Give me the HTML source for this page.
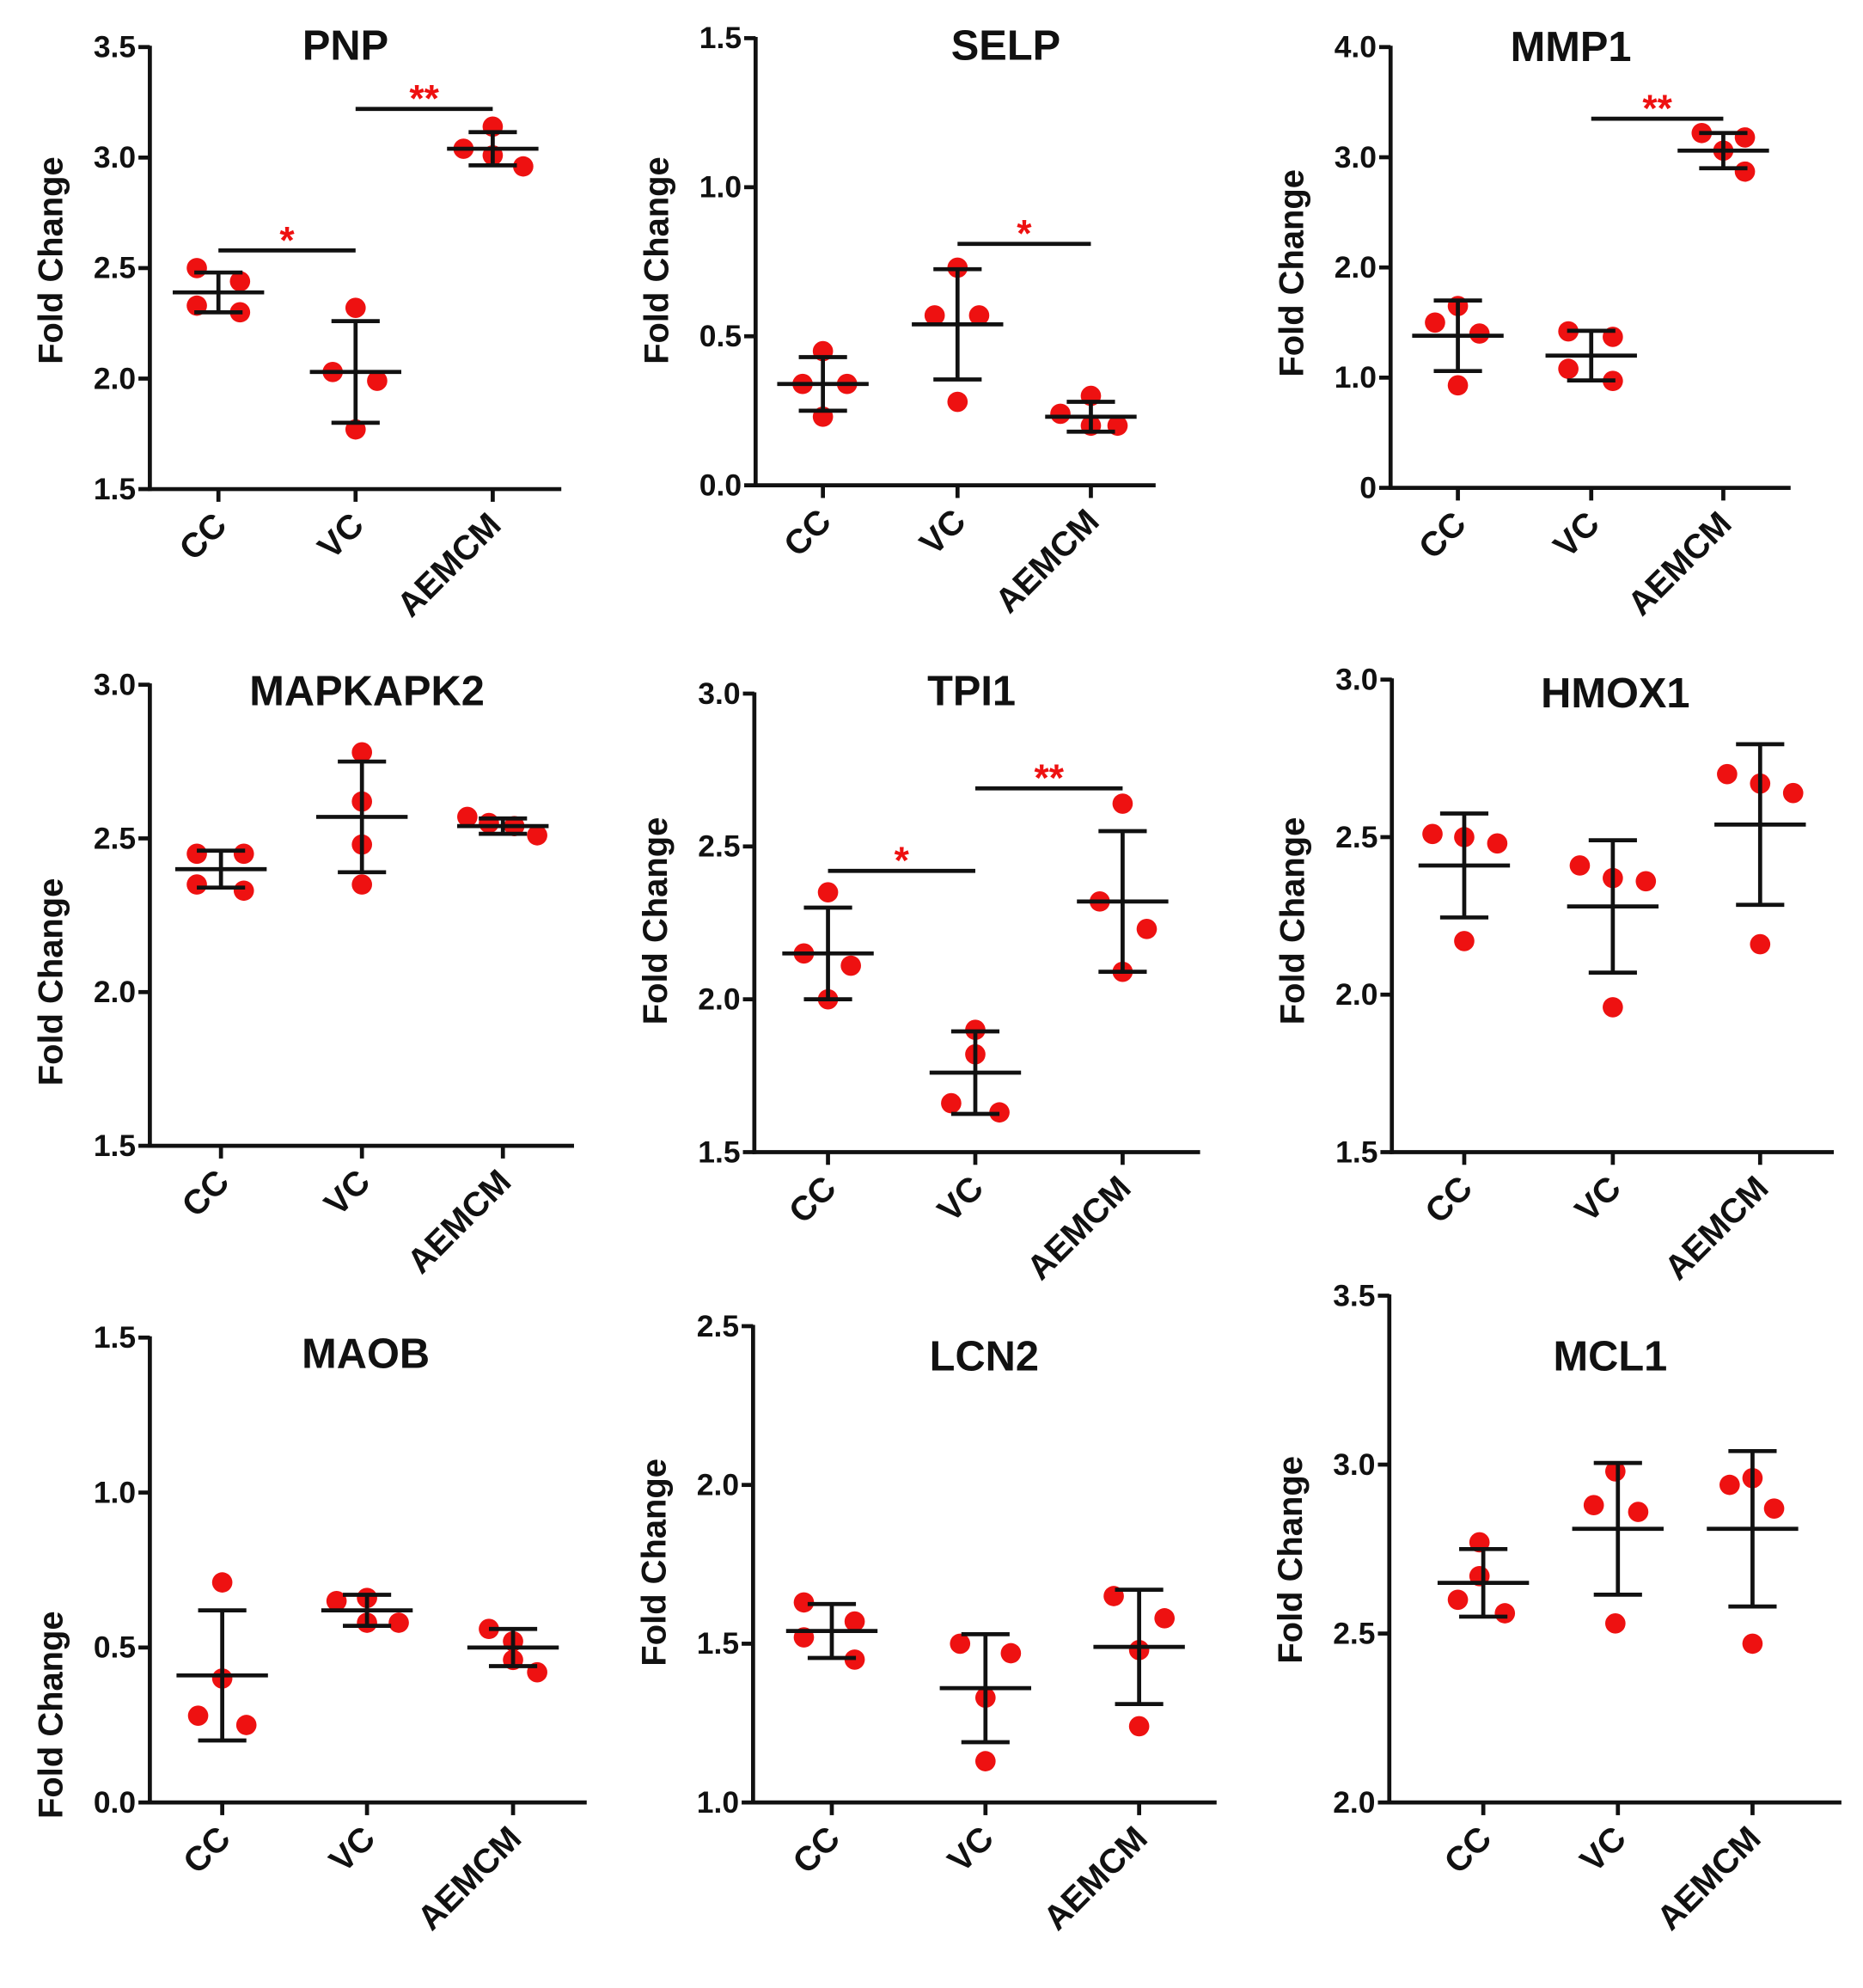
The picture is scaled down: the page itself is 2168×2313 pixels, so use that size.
<!DOCTYPE html>
<html><head><meta charset="utf-8"><style>
html,body{margin:0;padding:0;background:#fff}
svg{display:block}
text{font-family:"Liberation Sans",Arial,sans-serif;font-weight:bold;fill:#111}
</style></head><body>
<svg id="fig" width="2168" height="2313" viewBox="0 0 1467 1565" xmlns="http://www.w3.org/2000/svg"></svg>
<script>
const groups = ["CC","VC","AEMCM"];
const titles = ["PNP","SELP","MMP1","MAPKAPK2","TPI1","HMOX1","MAOB","LCN2","MCL1"];
const yTicks = [[1.5,2.0,2.5,3.0,3.5],[0.0,0.5,1.0,1.5],[0,1.0,2.0,3.0,4.0],[1.5,2.0,2.5,3.0],[1.5,2.0,2.5,3.0],[1.5,2.0,2.5,3.0],[0.0,0.5,1.0,1.5],[1.0,1.5,2.0,2.5],[2.0,2.5,3.0,3.5]];
const tickLabels = [["1.5","2.0","2.5","3.0","3.5"],["0.0","0.5","1.0","1.5"],["0","1.0","2.0","3.0","4.0"],["1.5","2.0","2.5","3.0"],["1.5","2.0","2.5","3.0"],["1.5","2.0","2.5","3.0"],["0.0","0.5","1.0","1.5"],["1.0","1.5","2.0","2.5"],["2.0","2.5","3.0","3.5"]];
const points = [
 [[2.50,2.44,2.33,2.30],[2.32,2.03,1.99,1.77],[3.14,3.04,3.01,2.96]],
 [[0.45,0.34,0.34,0.23],[0.73,0.57,0.57,0.28],[0.30,0.24,0.20,0.20]],
 [[1.65,1.50,1.40,0.93],[1.42,1.37,1.08,0.97],[3.22,3.18,3.06,2.87]],
 [[2.45,2.45,2.35,2.33],[2.78,2.62,2.48,2.35],[2.57,2.55,2.54,2.51]],
 [[2.35,2.15,2.11,2.00],[1.90,1.82,1.66,1.63],[2.64,2.32,2.23,2.09]],
 [[2.51,2.50,2.48,2.17],[2.41,2.37,2.36,1.96],[2.70,2.67,2.64,2.16]],
 [[0.71,0.40,0.28,0.25],[0.65,0.66,0.58,0.58],[0.56,0.52,0.46,0.42]],
 [[1.63,1.57,1.52,1.45],[1.50,1.47,1.33,1.13],[1.65,1.58,1.48,1.24]],
 [[2.77,2.67,2.60,2.56],[2.98,2.88,2.86,2.53],[2.96,2.94,2.87,2.47]]
];
const means = [[2.39,2.03,3.04],[0.34,0.54,0.23],[1.38,1.20,3.06],[2.40,2.57,2.54],[2.15,1.76,2.32],[2.41,2.28,2.54],[0.41,0.62,0.50],[1.54,1.36,1.49],[2.65,2.81,2.81]];
const sds = [[0.09,0.23,0.075],[0.09,0.185,0.05],[0.32,0.225,0.16],[0.06,0.18,0.025],[0.15,0.135,0.23],[0.165,0.21,0.255],[0.21,0.05,0.06],[0.085,0.17,0.18],[0.10,0.195,0.23]];
const sigBars = [[[0,1,2.58,"*"],[1,2,3.22,"**"]],[[1,2,0.81,"*"]],[[1,2,3.35,"**"]],[],[[0,1,2.42,"*"],[1,2,2.69,"**"]],[],[],[],[]];
// layout (positions, not data)
const L = [
 {ax:118,top:37,bot:385,end:442,gx:[172,280,388],tx:272,ty:47,ylc:205,off:[[-17,17,-17,17],[0,-18,17,0],[0,-23,0,24]]},
 {ax:595,top:30,bot:382,end:910,gx:[648,754,859],tx:792,ty:47,ylc:205,off:[[0,-16,19,0],[0,-18,17,0],[0,-24,21,0]]},
 {ax:1095,top:37,bot:384,end:1410,gx:[1148,1253,1357],tx:1237,ty:48,ylc:215,off:[[0,-18,17,0],[-18,17,-18,17],[-17,17,0,17]]},
 {ax:118,top:539,bot:902,end:452,gx:[174,285,396],tx:289,ty:555,ylc:773,off:[[-19,18,-19,18],[0,0,0,0],[-28,-11,9,27]]},
 {ax:594,top:546,bot:907,end:945,gx:[652,768,884],tx:765,ty:555,ylc:725,off:[[0,-19,18,0],[0,0,-19,19],[0,-18,19,0]]},
 {ax:1096,top:535,bot:907,end:1444,gx:[1153,1270,1386],tx:1272,ty:557,ylc:725,off:[[-25,0,26,0],[-26,0,26,0],[-26,0,26,0]]},
 {ax:118,top:1053,bot:1419,end:462,gx:[175,289,404],tx:288,ty:1077,ylc:1350,off:[[0,0,-19,19],[-24,0,0,25],[-19,0,0,19]]},
 {ax:593,top:1044,bot:1419,end:958,gx:[655,776,897],tx:775,ty:1079,ylc:1230,off:[[-22,18,-22,18],[-20,20,0,0],[-20,20,0,0]]},
 {ax:1094,top:1020,bot:1419,end:1450,gx:[1168,1274,1380],tx:1268,ty:1079,ylc:1228,off:[[-3,-3,-20,17],[-2,-19,16,-2],[0,-18,17,0]]}
];
const NS="http://www.w3.org/2000/svg";
const svg=document.getElementById('fig');
function mk(tag,attrs,parent){const e=document.createElementNS(NS,tag);for(const k in attrs)e.setAttribute(k,attrs[k]);(parent||svg).appendChild(e);return e;}
titles.forEach((t,i)=>{
 const p=L[i];const ticks=yTicks[i];const y0=ticks[0],y1=ticks[ticks.length-1];
 const Y=v=>p.bot-(v-y0)/(y1-y0)*(p.bot-p.top);
 const g=mk('g',{});
 
 
 const ti=mk('text',{x:p.tx,y:p.ty,'text-anchor':'middle','font-size':33},g);ti.textContent=t;
 
 
 const yl=mk('text',{transform:`translate(${p.ax-69},${p.ylc}) rotate(-90)`,'text-anchor':'middle','font-size':27},g);yl.textContent='Fold Change';
 
 
 const ya=mk('line',{x1:p.ax,y1:p.top-1,x2:p.ax,y2:p.bot+1.5,stroke:'#111','stroke-width':3.2},g);
 
 
 const xa=mk('line',{x1:p.ax-1.5,y1:p.bot,x2:p.end,y2:p.bot,stroke:'#111','stroke-width':3.2},g);
 
 
 ticks.forEach((v,k)=>{
  mk('line',{x1:p.ax-9,y1:Y(v),x2:p.ax,y2:Y(v),stroke:'#111','stroke-width':3.2},g);
  const tl=mk('text',{x:p.ax-11,y:Y(v)+8,'text-anchor':'end','font-size':24},g);tl.textContent=tickLabels[i][k];
  
  
 });
 groups.forEach((gn,j)=>{
  const x=p.gx[j];
  mk('line',{x1:x,y1:p.bot,x2:x,y2:p.bot+10,stroke:'#111','stroke-width':3.2},g);
  const xl=mk('text',{transform:`translate(${x+8},${p.bot+30}) rotate(-45)`,'text-anchor':'end','font-size':27},g);xl.textContent=gn;
  
  
  points[i][j].forEach((v,k)=>{
   const c=mk('circle',{cx:x+p.off[j][k],cy:Y(v),r:8,fill:'#ee1111'},g);
   
   
  });
  const m=means[i][j],s=sds[i][j];
  const ml=mk('line',{x1:x-36,y1:Y(m),x2:x+36,y2:Y(m),stroke:'#111','stroke-width':3.2},g);
  
  
  const eb=mk('path',{d:`M${x},${Y(m+s)}V${Y(m-s)}M${x-19},${Y(m+s)}H${x+19}M${x-19},${Y(m-s)}H${x+19}`,stroke:'#111','stroke-width':3.2,fill:'none'},g);
  
  
 });
 sigBars[i].forEach(b=>{
  const x1=p.gx[b[0]],x2=p.gx[b[1]],y=Y(b[2]);
  const sl=mk('line',{x1:x1,y1:y,x2:x2,y2:y,stroke:'#111','stroke-width':3.2},g);
  
  
  const st=mk('text',{x:(x1+x2)/2,y:y+2,'text-anchor':'middle','font-size':30,style:'fill:#ee1111'},g);st.textContent=b[3];
  
  
 });
});
</script>
</body></html>
